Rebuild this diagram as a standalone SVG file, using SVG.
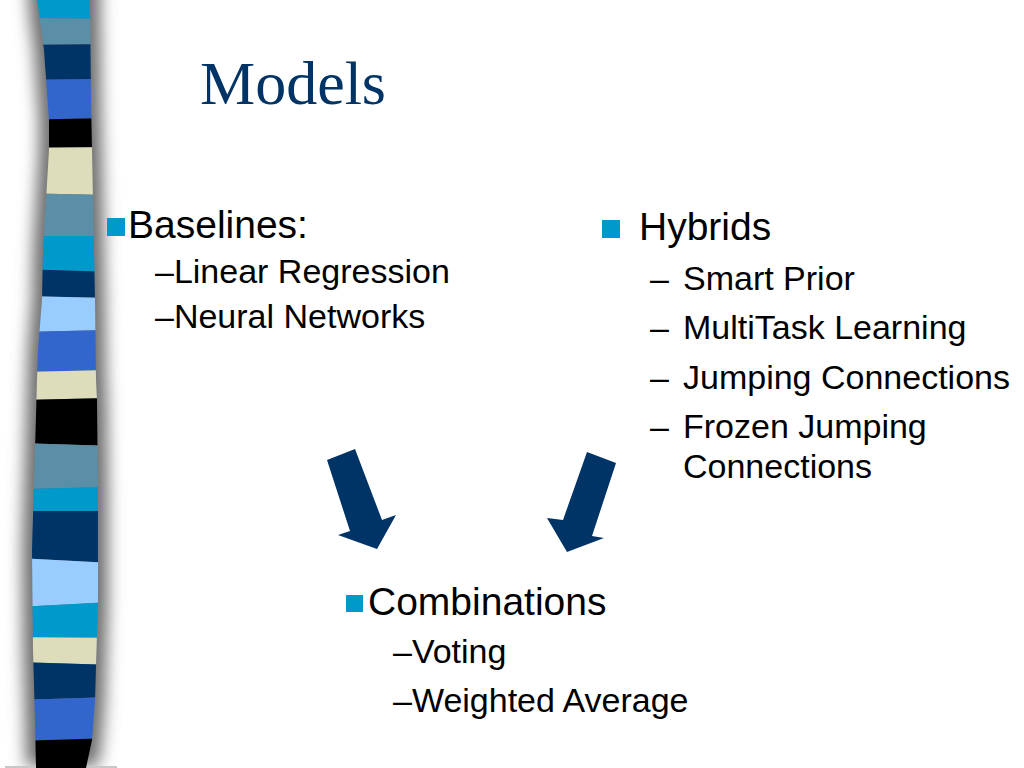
<svg xmlns="http://www.w3.org/2000/svg" width="1024" height="768" viewBox="0 0 1024 768">
  <defs>
    <style>
      .t { font-family: "Liberation Sans", Arial, sans-serif; fill: #000; }
      .l1 { font-size: 39px; }
      .l2 { font-size: 34px; }
      .title { font-family: "Liberation Serif", "Times New Roman", serif; font-size: 62px; fill: #003366; }
      .bul { fill: #0099CC; }
      .arrow { fill: #003366; }
      .cy { fill: #0099CC; } .st { fill: #5B8FA8; } .nv { fill: #003366; }
      .ro { fill: #3366CC; } .bk { fill: #000000; } .be { fill: #DDDDBB; } .lb { fill: #99CCFF; }
    </style>
    <clipPath id="barClip">
      <path id="barPath" d="M37,0 L40,20 L44,50 L49,120 L49,150 L46,200 L43,250 L42,300 L38,350 L37,380 L35,450 L32,550 L33,650 L35,720 L36,768 L86,768 L92,740 L95,700 L98,600 L98,500 L97,400 L96,380 L95,300 L93,200 L91,100 L90,0 Z"/>
    </clipPath>
    <filter id="blur" x="-50%" y="-5%" width="200%" height="110%">
      <feGaussianBlur stdDeviation="8"/>
    </filter>
  </defs>
  <rect width="1024" height="768" fill="#ffffff"/>

  <g id="stripe-bar">
    <path d="M27,-20 L30,20 L34,50 L39,120 L39,150 L36,200 L33,250 L32,300 L28,350 L27,380 L25,450 L22,550 L23,650 L25,720 L26,766 L98,766 L102,740 L105,700 L108,600 L108,500 L107,400 L106,380 L105,300 L103,200 L101,100 L100,-20 Z" fill="#6e6e6e" filter="url(#blur)"/>
    <rect x="5" y="766" width="112" height="2" fill="#c8c8c8"/>
    <g clip-path="url(#barClip)">
      <polygon class="cy" points="20,0 110,0 110,19 20,18"/>
      <polygon class="st" points="20,18 110,19 110,44 20,45"/>
      <polygon class="nv" points="20,45 110,44 110,79 20,80"/>
      <polygon class="ro" points="20,80 110,79 110,118 20,120"/>
      <polygon class="bk" points="20,120 110,118 110,147 20,148"/>
      <polygon class="be" points="20,148 110,147 110,195 20,193"/>
      <polygon class="st" points="20,193 110,195 110,236 20,236"/>
      <polygon class="cy" points="20,236 110,236 110,272 20,269"/>
      <polygon class="nv" points="20,269 110,272 110,298 20,296"/>
      <polygon class="lb" points="20,296 110,298 110,330 20,332"/>
      <polygon class="ro" points="20,332 110,330 110,370 20,372"/>
      <polygon class="be" points="20,372 110,370 110,398 20,400"/>
      <polygon class="bk" points="20,400 110,398 110,446 20,443"/>
      <polygon class="st" points="20,443 110,446 110,487 20,489"/>
      <polygon class="cy" points="20,489 110,487 110,511 20,511"/>
      <polygon class="nv" points="20,511 110,511 110,563 20,558"/>
      <polygon class="lb" points="20,558 110,563 110,602 20,607"/>
      <polygon class="cy" points="20,607 110,602 110,638 20,637"/>
      <polygon class="be" points="20,637 110,638 110,665 20,662"/>
      <polygon class="nv" points="20,662 110,665 110,697 20,700"/>
      <polygon class="ro" points="20,700 110,697 110,738 20,741"/>
      <polygon class="bk" points="20,741 110,738 110,768 20,768"/>
    </g>
  </g>

  <g id="title">
    <text class="title" x="200" y="104">Models</text>
  </g>

  <g id="baselines">
    <rect class="bul" x="107" y="218" width="18" height="18"/>
    <text class="t l1" x="128" y="238">Baselines:</text>
    <text class="t l2" x="155" y="283">–Linear Regression</text>
    <text class="t l2" x="155" y="328">–Neural Networks</text>
  </g>

  <g id="hybrids">
    <rect class="bul" x="602" y="220" width="18" height="18"/>
    <text class="t l1" x="639" y="240">Hybrids</text>
    <text class="t l2" x="650" y="290">–</text>
    <text class="t l2" x="683" y="290">Smart Prior</text>
    <text class="t l2" x="650" y="339">–</text>
    <text class="t l2" x="683" y="339">MultiTask Learning</text>
    <text class="t l2" x="650" y="389">–</text>
    <text class="t l2" x="683" y="389">Jumping Connections</text>
    <text class="t l2" x="650" y="438">–</text>
    <text class="t l2" x="683" y="438">Frozen Jumping</text>
    <text class="t l2" x="683" y="478">Connections</text>
  </g>

  <g id="combinations">
    <rect class="bul" x="346" y="595" width="17" height="17"/>
    <text class="t l1" x="368" y="615">Combinations</text>
    <text class="t l2" x="393" y="663">–Voting</text>
    <text class="t l2" x="393" y="712">–Weighted Average</text>
  </g>

  <g id="connectors">
    <polygon class="arrow" points="327,460 355,449 382,520 396,515 377,549 338,535 350,531"/>
    <polygon class="arrow" points="587,452 616,463 592,536 604,538 567,552 547,518 563,520"/>
  </g>
</svg>
